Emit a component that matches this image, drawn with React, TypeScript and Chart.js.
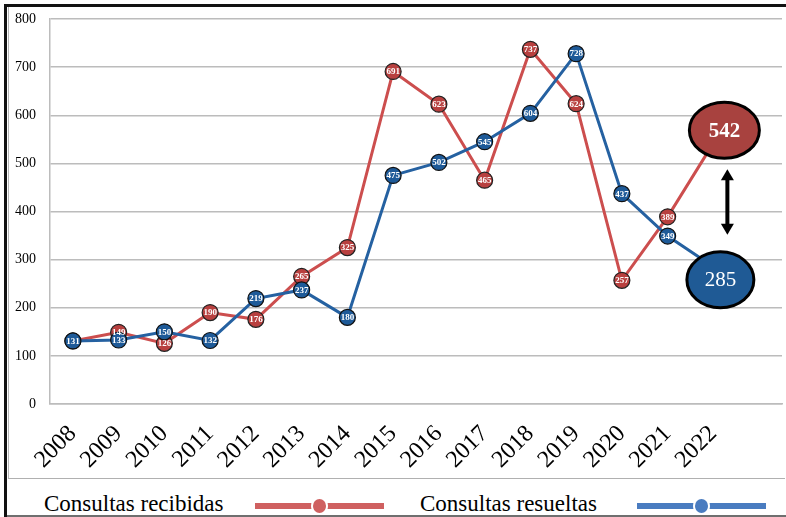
import React, { useEffect, useRef } from "react";
import { Chart, registerables } from "chart.js";

Chart.register(...registerables);

// ---- data ----
const years = ["2008", "2009", "2010", "2011", "2012", "2013", "2014", "2015", "2016", "2017", "2018", "2019", "2020", "2021", "2022", ""];
const recibidas = [131, 149, 126, 190, 176, 265, 325, 691, 623, 465, 737, 624, 257, 389, 542];
const resueltas = [131, 133, 150, 132, 219, 237, 180, 475, 502, 545, 604, 728, 437, 349, 285];
const seriesNames = ["Consultas recibidas", "Consultas resueltas"];
const yMin = 0;
const yMax = 800;
const yStep = 100;

// ---- styles ----
const SERIF = '"Liberation Serif", "Times New Roman", serif';
const RED_LINE = "#CC4E4E";
const RED_MARK = "#B8403F";
const RED_BIG = "#A8423F";
const RED_LEGEND = "#CF6060";
const BLUE_LINE = "#2561A1";
const BLUE_MARK = "#1E5A98";
const BLUE_BIG = "#1F5A95";
const BLUE_LEGEND = "#4A7CC0";

const bigStyles = [
  { fill: RED_BIG, dx: 11, dy: -13, rx: 35, ry: 28, bold: true },
  { fill: BLUE_BIG, dx: 7, dy: 13, rx: 33.5, ry: 28, bold: false },
];

const overlayPlugin = {
  id: "overlay",
  afterDatasetsDraw(chart: any) {
    const ctx = chart.ctx;
    const datasets = chart.data.datasets;
    // small data labels, drawn above every series
    datasets.forEach((ds: any, di: number) => {
      const meta = chart.getDatasetMeta(di);
      const last = ds.data.length - 1;
      ctx.save();
      ctx.font = `bold 9px ${SERIF}`;
      ctx.fillStyle = "#ffffff";
      ctx.textAlign = "center";
      ctx.textBaseline = "middle";
      meta.data.forEach((pt: any, i: number) => {
        const v = ds.data[i];
        if (v == null || i === last) return;
        // a label hidden under an identical point of a series drawn above it
        const covered = datasets.some(
          (o: any, oi: number) => oi !== di && (o.order ?? oi) < (ds.order ?? di) && o.data[i] === v
        );
        if (covered) return;
        ctx.fillText(String(v), pt.x, pt.y + 0.5);
      });
      ctx.restore();
    });

    // big ellipses for the last year
    const centers: { x: number; y: number; ry: number }[] = [];
    datasets.forEach((ds: any, di: number) => {
      const meta = chart.getDatasetMeta(di);
      const last = ds.data.length - 1;
      const pt = meta.data[last];
      if (!pt) return;
      const st = bigStyles[di];
      const cx = pt.x + st.dx;
      const cy = pt.y + st.dy;
      ctx.save();
      ctx.beginPath();
      ctx.ellipse(cx, cy, st.rx, st.ry, 0, 0, Math.PI * 2);
      ctx.fillStyle = st.fill;
      ctx.fill();
      ctx.lineWidth = 3;
      ctx.strokeStyle = "#000";
      ctx.stroke();
      ctx.fillStyle = "#fff";
      ctx.font = `${st.bold ? "bold " : ""}21px ${SERIF}`;
      ctx.textAlign = "center";
      ctx.textBaseline = "middle";
      ctx.fillText(String(ds.data[last]), cx, cy + 1);
      ctx.restore();
      centers.push({ x: cx, y: cy, ry: st.ry });
    });

    // double-headed arrow between them
    if (centers.length === 2) {
      const ax = (centers[0].x + centers[1].x) / 2 + 5;
      const top = centers[0].y + centers[0].ry + 11;
      const bot = centers[1].y - centers[1].ry - 17;
      ctx.save();
      ctx.strokeStyle = "#000";
      ctx.fillStyle = "#000";
      ctx.lineWidth = 4;
      ctx.beginPath();
      ctx.moveTo(ax, top + 8);
      ctx.lineTo(ax, bot - 8);
      ctx.stroke();
      ctx.beginPath();
      ctx.moveTo(ax, top);
      ctx.lineTo(ax - 6.5, top + 11);
      ctx.lineTo(ax + 6.5, top + 11);
      ctx.closePath();
      ctx.fill();
      ctx.beginPath();
      ctx.moveTo(ax, bot);
      ctx.lineTo(ax - 6.5, bot - 11);
      ctx.lineTo(ax + 6.5, bot - 11);
      ctx.closePath();
      ctx.fill();
      ctx.restore();
    }
  },
};

export default function App() {
  const canvasRef = useRef<HTMLCanvasElement | null>(null);

  useEffect(() => {
    if (!canvasRef.current) return;
    const chart = new Chart(canvasRef.current, {
      type: "line",
      data: {
        labels: years,
        datasets: [
          {
            label: seriesNames[0],
            data: recibidas,
            borderColor: RED_LINE,
            backgroundColor: RED_MARK,
            pointBackgroundColor: RED_MARK,
            pointBorderColor: "#222",
            pointBorderWidth: 1.2,
            pointRadius: 8,
            borderWidth: 3,
            tension: 0,
            order: 1,
          },
          {
            label: seriesNames[1],
            data: resueltas,
            borderColor: BLUE_LINE,
            backgroundColor: BLUE_MARK,
            pointBackgroundColor: BLUE_MARK,
            pointBorderColor: "#111",
            pointBorderWidth: 1.2,
            pointRadius: 8,
            borderWidth: 3,
            tension: 0,
            order: 0,
          },
        ],
      },
      options: {
        animation: false,
        responsive: true,
        maintainAspectRatio: false,
        layout: { autoPadding: false, padding: { left: 0, right: 2, top: 12, bottom: 0 } },
        plugins: {
          legend: { display: false },
          tooltip: { enabled: false },
        },
        scales: {
          x: {
            type: "category",
            offset: true,
            grid: { display: false, drawTicks: false },
            border: { display: true, color: "#bcbcbc", width: 1.5 },
            ticks: {
              autoSkip: false,
              minRotation: 45,
              maxRotation: 45,
              padding: 16,
              color: "#000",
              font: { family: SERIF, size: 24 },
            },
            afterFit: (s: any) => {
              s.height = 75;
              s.paddingLeft = 0;
              s.paddingRight = 0;
            },
          },
          y: {
            min: yMin,
            max: yMax,
            grid: { color: "#bcbcbc", lineWidth: 1.5, drawTicks: false },
            border: { display: true, color: "#bcbcbc", width: 1.5 },
            ticks: {
              stepSize: yStep,
              padding: 14,
              color: "#000",
              font: { family: SERIF, size: 14 },
            },
            afterFit: (s: any) => {
              s.width = 41;
              s.paddingTop = 0;
              s.paddingBottom = 0;
            },
          },
        },
      },
      plugins: [overlayPlugin],
    });
    return () => chart.destroy();
  }, []);

  const legendColors = [RED_LEGEND, BLUE_LEGEND];
  const legendTextX = [44, 420];
  const legendLineX = [255, 637];

  return (
    <div style={{ position: "absolute", left: 0, top: 0, width: 786, height: 517, overflow: "hidden", background: "#fff" }}>
      <div style={{ position: "absolute", left: 4, top: 4, width: 800, height: 520, borderLeft: "3px solid #111", borderTop: "3px solid #111" }} />
      <div style={{ position: "absolute", left: 8, top: 7, width: 776, height: 471, borderLeft: "1px solid #b5b5b5", borderBottom: "1.5px solid #b0b0b0" }} />
      <div style={{ position: "absolute", left: 7, top: 515, width: 779, height: 2, background: "#6f6f6f" }} />
      <div style={{ position: "absolute", left: 9, top: 7, width: 775, height: 472 }}>
        <canvas ref={canvasRef} />
      </div>
      {seriesNames.map((name, i) => (
        <React.Fragment key={name}>
          <div
            style={{
              position: "absolute",
              left: legendTextX[i],
              top: 491,
              fontFamily: SERIF,
              fontSize: 23,
              lineHeight: "26px",
              color: "#000",
              whiteSpace: "nowrap",
            }}
          >
            {name}
          </div>
          <div style={{ position: "absolute", left: legendLineX[i], top: 503, width: 129, height: 6, background: legendColors[i] }} />
          <div
            style={{
              position: "absolute",
              left: legendLineX[i] + 64 - 6.5,
              top: 499,
              width: 13,
              height: 14,
              borderRadius: "50%",
              background: legendColors[i],
              boxShadow: "0 0 0 2px #fff",
            }}
          />
        </React.Fragment>
      ))}
    </div>
  );
}
